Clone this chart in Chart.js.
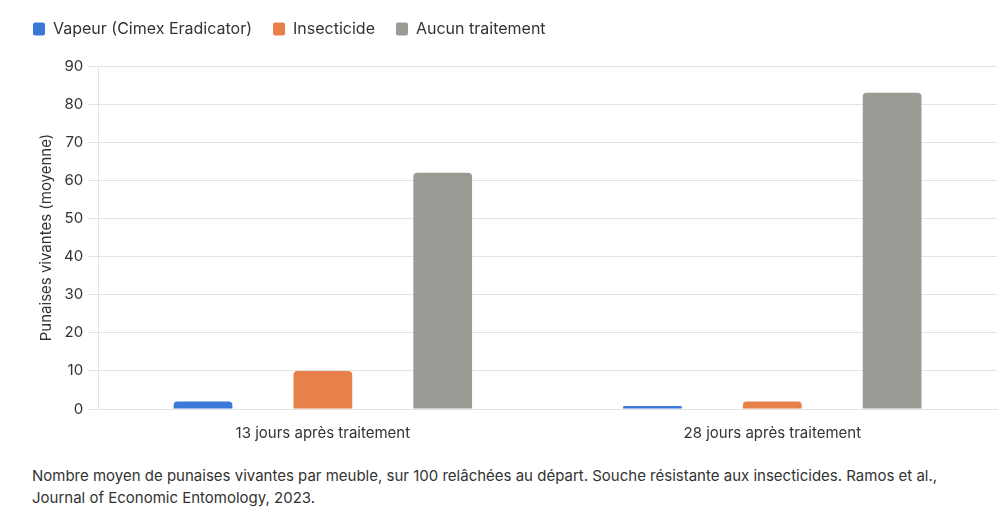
<!DOCTYPE html>
<html lang="fr">
<head>
<meta charset="utf-8">
<script src="https://cdn.jsdelivr.net/npm/chart.js@4.4.1/dist/chart.umd.min.js"></script>
<style>
    body { margin: 0; background: #fff; font-family: Inter, "Noto Sans", sans-serif; }
    #wrap { position: relative; width: 1000px; height: 449px; }
    #caption { margin: 16px 0 0 32px; width: 950px; font-size: 15px; line-height: 22px; color: #333; }
</style>
</head>
<body>
<div id="wrap"><canvas id="chart_1"></canvas></div>
<div id="caption">Nombre moyen de punaises vivantes par meuble, sur 100 relâchées au départ. Souche résistante aux insecticides. Ramos et al., Journal of Economic Entomology, 2023.</div>
<script>
const categories = ['13 jours après traitement', '28 jours après traitement'];
const vapeur = [2, 0.8];
const insecticide = [10, 2];
const aucun = [62, 83];
const yTicks = [0, 10, 20, 30, 40, 50, 60, 70, 80, 90];

// extra space under the legend
const legendMargin = {
    id: 'legendMargin',
    beforeInit(chart) {
        const fit = chart.legend.fit;
        chart.legend.fit = function () {
            fit.bind(chart.legend)();
            this.height += 19;
        };
    }
};

document.addEventListener("DOMContentLoaded", function () {
    Chart.defaults.font.family = 'Inter, "Noto Sans", sans-serif';
    Chart.defaults.color = '#333';

    const chart_el = document.getElementById('chart_1');

    new Chart(chart_el, {
        type: 'bar',
        data: {
            labels: categories,
            datasets: [
                { label: 'Vapeur (Cimex Eradicator)', data: vapeur, backgroundColor: '#3b78d8' },
                { label: 'Insecticide', data: insecticide, backgroundColor: '#e8804b' },
                { label: 'Aucun traitement', data: aucun, backgroundColor: '#9b9a94' }
            ]
        },
        plugins: [legendMargin],
        options: {
            responsive: true,
            maintainAspectRatio: false,
            animation: false,
            layout: { padding: { left: 12, right: 3, top: 0, bottom: 0 } },
            datasets: {
                bar: { categoryPercentage: 0.8, barPercentage: 0.49, borderRadius: 4 }
            },
            plugins: {
                legend: {
                    position: 'top',
                    align: 'start',
                    labels: {
                        boxWidth: 12,
                        boxHeight: 13,
                        useBorderRadius: true,
                        borderRadius: 2,
                        padding: 21,
                        color: '#333',
                        font: { size: 16 }
                    }
                },
                tooltip: { enabled: false }
            },
            scales: {
                x: {
                    grid: { display: false },
                    border: { display: true, color: '#e3e3e3' },
                    ticks: { font: { size: 15 }, color: '#333', padding: 7 }
                },
                y: {
                    min: 0,
                    max: 90,
                    afterBuildTicks: function (axis) {
                        axis.ticks = yTicks.map(v => ({ value: v }));
                    },
                    grid: { color: '#e3e3e3', tickLength: 10 },
                    border: { color: '#e3e3e3' },
                    ticks: { font: { size: 15 }, color: '#333', padding: 5 },
                    title: {
                        display: true,
                        text: 'Punaises vivantes (moyenne)',
                        font: { size: 15 },
                        color: '#333',
                        padding: { top: 25, bottom: 4 }
                    }
                }
            }
        }
    });
});
</script>
</body>
</html>
